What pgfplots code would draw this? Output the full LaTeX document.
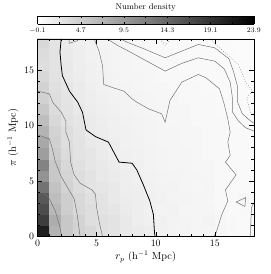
\documentclass[border=0pt]{standalone}
\usepackage{pgfplots}
\pgfplotsset{compat=1.18}
\begin{document}
\begin{tikzpicture}[x=1bp,y=1bp]
\path (0,0) rectangle (274,274);
\begin{axis}[
  at={(38bp,38bp)}, anchor=south west,
  scale only axis, width=219bp, height=200bp,
  xmin=0, xmax=18.3, ymin=0, ymax=17.8,
  xtick={0,5,10,15}, ytick={0,5,10,15},
  minor x tick num=4, minor y tick num=4,
  tick align=inside, major tick length=5bp, minor tick length=2.5bp,
  tick style={black, line width=0.4pt},
  axis line style={line width=0.5pt},
  ticklabel style={font=\fontsize{10}{11}\selectfont},
  label style={font=\fontsize{10.5}{12}\selectfont},
  xlabel={$r_p$ (h$^{-1}$ Mpc)}, ylabel={$\pi$ (h$^{-1}$ Mpc)},
  xlabel style={yshift=2bp}, ylabel style={yshift=-1bp},
  colormap={bw}{gray(0cm)=(1); gray(1cm)=(0)},
  point meta min=-0.1, point meta max=23.9,
  axis on top,
]
\addplot[matrix plot*, mesh/cols=19, mesh/rows=18, point meta=explicit]
  table[row sep=\\, meta=c] {
x y c\\
0.5 0.5 21\\1.5 0.5 7\\2.5 0.5 5\\3.5 0.5 4\\4.5 0.5 3.5\\5.5 0.5 2.8\\6.5 0.5 2.5\\7.5 0.5 2\\8.5 0.5 1.8\\9.5 0.5 1.5\\10.5 0.5 1.2\\11.5 0.5 1\\12.5 0.5 1\\13.5 0.5 0.8\\14.5 0.5 0.8\\15.5 0.5 0.7\\16.5 0.5 0.6\\17.5 0.5 0.5\\18.5 0.5 0.5\\
0.5 1.5 18\\1.5 1.5 7.5\\2.5 1.5 5\\3.5 1.5 4\\4.5 1.5 3\\5.5 1.5 2.8\\6.5 1.5 2.5\\7.5 1.5 2\\8.5 1.5 1.5\\9.5 1.5 1.3\\10.5 1.5 1.2\\11.5 1.5 1\\12.5 1.5 0.9\\13.5 1.5 0.8\\14.5 1.5 1\\15.5 1.5 0.7\\16.5 1.5 0.6\\17.5 1.5 0.5\\18.5 1.5 0.5\\
0.5 2.5 16.5\\1.5 2.5 6.5\\2.5 2.5 4.5\\3.5 2.5 3.5\\4.5 2.5 3\\5.5 2.5 2.5\\6.5 2.5 2.2\\7.5 2.5 1.8\\8.5 2.5 1.5\\9.5 2.5 1.2\\10.5 2.5 1\\11.5 2.5 1.1\\12.5 2.5 0.8\\13.5 2.5 0.8\\14.5 2.5 0.8\\15.5 2.5 0.6\\16.5 2.5 0.5\\17.5 2.5 0.6\\18.5 2.5 0.4\\
0.5 3.5 15.5\\1.5 3.5 6\\2.5 3.5 4.5\\3.5 3.5 3.5\\4.5 3.5 2.8\\5.5 3.5 2.5\\6.5 3.5 2\\7.5 3.5 1.7\\8.5 3.5 1.5\\9.5 3.5 1.3\\10.5 3.5 1.2\\11.5 3.5 0.9\\12.5 3.5 0.9\\13.5 3.5 0.8\\14.5 3.5 0.7\\15.5 3.5 0.6\\16.5 3.5 0.5\\17.5 3.5 0.7\\18.5 3.5 0.5\\
0.5 4.5 13\\1.5 4.5 5.5\\2.5 4.5 4\\3.5 4.5 3.2\\4.5 4.5 2.5\\5.5 4.5 2.2\\6.5 4.5 2\\7.5 4.5 1.5\\8.5 4.5 1.4\\9.5 4.5 1.2\\10.5 4.5 1\\11.5 4.5 1\\12.5 4.5 0.8\\13.5 4.5 0.7\\14.5 4.5 0.8\\15.5 4.5 0.6\\16.5 4.5 0.5\\17.5 4.5 0.5\\18.5 4.5 0.4\\
0.5 5.5 10\\1.5 5.5 5\\2.5 5.5 3.8\\3.5 5.5 3\\4.5 5.5 2.5\\5.5 5.5 2\\6.5 5.5 1.8\\7.5 5.5 1.5\\8.5 5.5 1.3\\9.5 5.5 1.1\\10.5 5.5 1\\11.5 5.5 0.9\\12.5 5.5 0.8\\13.5 5.5 0.8\\14.5 5.5 0.7\\15.5 5.5 0.6\\16.5 5.5 0.6\\17.5 5.5 0.5\\18.5 5.5 0.5\\
0.5 6.5 11.5\\1.5 6.5 5\\2.5 6.5 3.5\\3.5 6.5 2.8\\4.5 6.5 2.2\\5.5 6.5 2\\6.5 6.5 1.7\\7.5 6.5 1.4\\8.5 6.5 1.3\\9.5 6.5 1\\10.5 6.5 0.9\\11.5 6.5 0.8\\12.5 6.5 0.8\\13.5 6.5 0.7\\14.5 6.5 0.7\\15.5 6.5 0.6\\16.5 6.5 0.5\\17.5 6.5 0.5\\18.5 6.5 0.5\\
0.5 7.5 9\\1.5 7.5 4.5\\2.5 7.5 3.2\\3.5 7.5 2.5\\4.5 7.5 2.2\\5.5 7.5 1.8\\6.5 7.5 1.5\\7.5 7.5 1.3\\8.5 7.5 1.2\\9.5 7.5 1\\10.5 7.5 0.9\\11.5 7.5 0.8\\12.5 7.5 0.8\\13.5 7.5 0.7\\14.5 7.5 0.6\\15.5 7.5 0.6\\16.5 7.5 0.5\\17.5 7.5 0.5\\18.5 7.5 0.5\\
0.5 8.5 8\\1.5 8.5 4.2\\2.5 8.5 3\\3.5 8.5 2.5\\4.5 8.5 2\\5.5 8.5 1.8\\6.5 8.5 1.5\\7.5 8.5 1.2\\8.5 8.5 1.1\\9.5 8.5 1\\10.5 8.5 0.8\\11.5 8.5 0.8\\12.5 8.5 0.7\\13.5 8.5 0.7\\14.5 8.5 0.6\\15.5 8.5 0.6\\16.5 8.5 0.5\\17.5 8.5 0.5\\18.5 8.5 0.4\\
0.5 9.5 7\\1.5 9.5 4\\2.5 9.5 3\\3.5 9.5 2.3\\4.5 9.5 1.8\\5.5 9.5 1.6\\6.5 9.5 1.3\\7.5 9.5 1.2\\8.5 9.5 1\\9.5 9.5 0.9\\10.5 9.5 0.8\\11.5 9.5 0.8\\12.5 9.5 0.7\\13.5 9.5 0.7\\14.5 9.5 0.6\\15.5 9.5 0.6\\16.5 9.5 0.5\\17.5 9.5 0.5\\18.5 9.5 0.4\\
0.5 10.5 6\\1.5 10.5 3.5\\2.5 10.5 2.6\\3.5 10.5 2.2\\4.5 10.5 1.8\\5.5 10.5 1.5\\6.5 10.5 1.3\\7.5 10.5 1.1\\8.5 10.5 1\\9.5 10.5 0.9\\10.5 10.5 0.8\\11.5 10.5 0.7\\12.5 10.5 0.7\\13.5 10.5 0.6\\14.5 10.5 0.6\\15.5 10.5 0.6\\16.5 10.5 0.5\\17.5 10.5 0.5\\18.5 10.5 0.4\\
0.5 11.5 5\\1.5 11.5 3.2\\2.5 11.5 2.5\\3.5 11.5 2\\4.5 11.5 1.6\\5.5 11.5 1.4\\6.5 11.5 1.2\\7.5 11.5 1\\8.5 11.5 0.9\\9.5 11.5 0.8\\10.5 11.5 0.8\\11.5 11.5 0.7\\12.5 11.5 0.7\\13.5 11.5 0.6\\14.5 11.5 0.6\\15.5 11.5 0.5\\16.5 11.5 0.5\\17.5 11.5 0.4\\18.5 11.5 0.4\\
0.5 12.5 4.2\\1.5 12.5 3\\2.5 12.5 2.4\\3.5 12.5 1.8\\4.5 12.5 1.5\\5.5 12.5 1.3\\6.5 12.5 1.1\\7.5 12.5 1\\8.5 12.5 0.9\\9.5 12.5 0.8\\10.5 12.5 0.7\\11.5 12.5 0.7\\12.5 12.5 0.6\\13.5 12.5 0.6\\14.5 12.5 0.6\\15.5 12.5 0.5\\16.5 12.5 0.5\\17.5 12.5 0.4\\18.5 12.5 0.4\\
0.5 13.5 4\\1.5 13.5 2.8\\2.5 13.5 2.2\\3.5 13.5 1.8\\4.5 13.5 1.4\\5.5 13.5 1.2\\6.5 13.5 1\\7.5 13.5 0.9\\8.5 13.5 0.8\\9.5 13.5 0.7\\10.5 13.5 0.7\\11.5 13.5 0.6\\12.5 13.5 0.6\\13.5 13.5 0.6\\14.5 13.5 0.5\\15.5 13.5 0.5\\16.5 13.5 0.5\\17.5 13.5 0.4\\18.5 13.5 0.4\\
0.5 14.5 3.5\\1.5 14.5 2.6\\2.5 14.5 2\\3.5 14.5 1.6\\4.5 14.5 1.3\\5.5 14.5 1.2\\6.5 14.5 1\\7.5 14.5 0.8\\8.5 14.5 0.8\\9.5 14.5 0.7\\10.5 14.5 0.6\\11.5 14.5 0.6\\12.5 14.5 0.6\\13.5 14.5 0.5\\14.5 14.5 0.5\\15.5 14.5 0.5\\16.5 14.5 0.4\\17.5 14.5 0.4\\18.5 14.5 0.4\\
0.5 15.5 3\\1.5 15.5 2.5\\2.5 15.5 2\\3.5 15.5 1.5\\4.5 15.5 1.3\\5.5 15.5 1.1\\6.5 15.5 0.9\\7.5 15.5 0.8\\8.5 15.5 0.7\\9.5 15.5 0.7\\10.5 15.5 0.6\\11.5 15.5 0.6\\12.5 15.5 0.5\\13.5 15.5 0.5\\14.5 15.5 0.5\\15.5 15.5 0.5\\16.5 15.5 0.4\\17.5 15.5 0.4\\18.5 15.5 0.3\\
0.5 16.5 3.2\\1.5 16.5 2.5\\2.5 16.5 1.9\\3.5 16.5 1.5\\4.5 16.5 1.2\\5.5 16.5 1.1\\6.5 16.5 0.9\\7.5 16.5 0.8\\8.5 16.5 0.7\\9.5 16.5 0.6\\10.5 16.5 0.6\\11.5 16.5 0.6\\12.5 16.5 0.5\\13.5 16.5 0.5\\14.5 16.5 0.5\\15.5 16.5 0.4\\16.5 16.5 0.4\\17.5 16.5 0.3\\18.5 16.5 0.3\\
0.5 17.5 3.5\\1.5 17.5 2.4\\2.5 17.5 1.8\\3.5 17.5 1.4\\4.5 17.5 1.2\\5.5 17.5 1\\6.5 17.5 0.9\\7.5 17.5 0.8\\8.5 17.5 0.7\\9.5 17.5 0.6\\10.5 17.5 0.6\\11.5 17.5 0.5\\12.5 17.5 0.5\\13.5 17.5 0.5\\14.5 17.5 0.4\\15.5 17.5 0.4\\16.5 17.5 0.4\\17.5 17.5 0.3\\18.5 17.5 0.3\\
};
% thin gray contours
\addplot[black!55, line width=0.5pt] coordinates {(0,4.4) (0.95,3.5) (1.5,2.3) (1.9,0.8) (2.05,0)};
\addplot[black!55, line width=0.5pt] coordinates {(0,9.15) (1.0,8.8) (1.26,7.9) (1.5,6.75) (2.0,5.4) (2.6,4.3) (3.1,3.4) (3.35,2.0) (3.6,0)};
\addplot[black!55, line width=0.5pt] coordinates {(0,13.1) (1.0,12.85) (1.28,12.1) (2.0,11.2) (2.4,10.4) (2.4,9.4) (2.7,8.5) (2.75,7.6) (2.8,6.7) (3.1,5.55) (3.6,4.8) (4.6,4.2) (4.9,3.8) (5.0,2.6) (5.2,1.4) (5.5,0)};
\addplot[black!55, line width=0.5pt] coordinates {(4.8,17.8) (5.2,16.7) (5.5,15.4) (5.6,13.7) (6.4,13.4) (7.3,13.1) (8.0,12.4) (8.4,12.1) (9.4,11.5) (10.5,11.05) (10.8,10.3) (11.2,12.25) (12.2,13.9) (13.6,14.6) (14.25,14.3) (15.4,13.3) (15.8,11.9) (16.1,10.6) (16.3,9.4) (16.1,8.5) (16.3,7.3) (15.9,6.7) (16.8,5.55) (15.9,4.2) (16.1,3.2) (15.6,2.0) (15.1,0.3) (14.9,0)};
\addplot[black!55, line width=0.5pt] coordinates {(5.9,17.8) (6.8,17.2) (7.7,16.7) (10.8,14.9) (12.2,15.6) (13.6,16.1) (15.0,15.8) (15.8,15.1) (16.3,13.9) (16.5,12.4) (16.5,11.2) (17.0,10.4) (17.6,9.8) (18.3,9.5)};
\addplot[black!55, line width=0.5pt] coordinates {(7.0,17.8) (7.7,17.45) (8.8,17.0) (10.8,16.1) (12.2,16.7) (13.6,17.3) (15.0,17.0) (16.2,16.0) (16.6,14.8) (16.9,13.6) (16.9,12.2) (17.3,11.1) (17.8,10.6) (18.3,10.2)};
\addplot[black!55, line width=0.5pt] coordinates {(18.3,3.0) (18.1,2.6) (18.0,0.2) (18.0,0)};
\addplot[black!55, line width=0.5pt] coordinates {(16.8,3.1) (17.6,3.5) (17.55,2.7) (16.8,3.1)};
\addplot[black!55, line width=0.5pt] coordinates {(2.67,17.8) (2.67,17.4) (3.4,17.65) (3.5,17.8)};
% thick black contour
\addplot[black, line width=0.8pt] coordinates {(2.0,17.8) (1.9,16.6) (2.0,15.4) (2.1,14.5) (2.7,13.1) (3.4,12.1) (3.8,11.2) (4.1,9.6) (4.9,9.0) (6.0,8.5) (6.6,7.3) (6.9,6.7) (8.0,6.6) (8.4,6.0) (8.95,4.66) (9.5,3.2) (9.8,2.0) (9.9,0.3) (9.95,0)};
% dotted contours
\addplot[black!50, line width=0.6pt, dotted] coordinates {(14.6,17.8) (15.6,16.8) (17.0,15.5) (17.6,13.9) (18.2,13.1) (17.7,12.5) (18.0,11.2) (18.3,10.9)};
\addplot[black!50, line width=0.6pt, dotted] coordinates {(10.35,17.8) (10.8,17.25) (11.3,17.8)};
\end{axis}
% colour bar
\begin{axis}[
  at={(38bp,253bp)}, anchor=south west,
  scale only axis, width=219bp, height=8bp,
  xmin=-0.1, xmax=23.9, ymin=0, ymax=1,
  ytick=\empty,
  xtick={-0.1,4.7,9.5,14.3,19.1,23.9},
  xticklabels={$-$0.1,4.7,9.5,14.3,19.1,23.9},
  minor x tick num=1,
  xtick pos=both, xticklabel pos=bottom,
  tick align=inside, major tick length=2bp, minor tick length=2bp,
  tick style={black, line width=0.4pt},
  axis line style={line width=0.5pt},
  xticklabel style={font=\fontsize{7}{8}\selectfont},
  title={Number density},
  title style={font=\fontsize{8.5}{9}\selectfont, yshift=-4bp},
  colormap={bw}{gray(0cm)=(1); gray(1cm)=(0)},
  point meta min=-0.1, point meta max=23.9,
  view={0}{90},
  axis on top,
]
\addplot3[surf, shader=interp, point meta=x, mesh/cols=2]
  coordinates {(-0.1,0,0) (23.9,0,0) (-0.1,1,0) (23.9,1,0)};
\end{axis}
\end{tikzpicture}
\end{document}
